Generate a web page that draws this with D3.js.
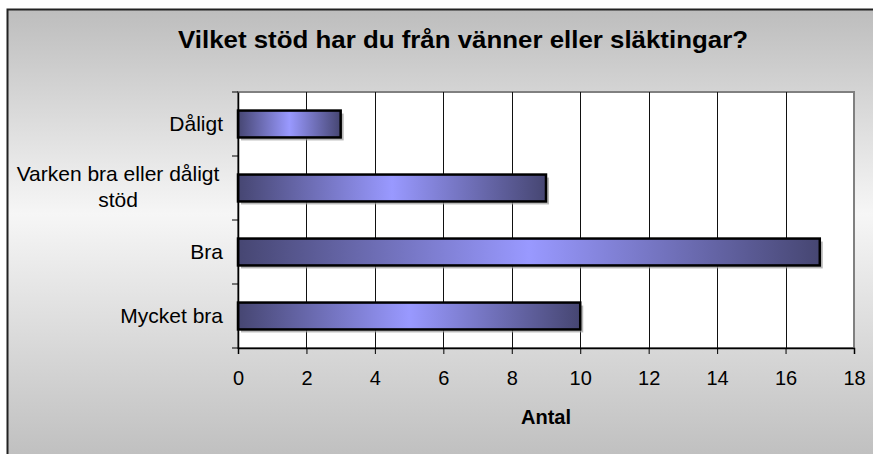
<!DOCTYPE html>
<html>
<head>
<meta charset="utf-8">
<script src="https://cdn.jsdelivr.net/npm/d3@7"></script>
<style>
  body { margin: 0; background: #fff; }
  svg text { font-family: "Liberation Sans", Arial, sans-serif; fill: #000; }
</style>
</head>
<body>
<div id="chart"></div>
<script>
const categories = ['Dåligt', 'Varken bra eller dåligt stöd', 'Bra', 'Mycket bra']
const values = [3, 9, 17, 10]
const xTicks = [0, 2, 4, 6, 8, 10, 12, 14, 16, 18]
const title = 'Vilket stöd har du från vänner eller släktingar?'
const xTitle = 'Antal'

const width = 873
const height = 454
const plot = { left: 238, right: 854, top: 92, bottom: 348 }

const svg = d3.select('#chart').append('svg')
  .attr('width', width)
  .attr('height', height)

const defs = svg.append('defs')

const bg = defs.append('linearGradient')
  .attr('id', 'bg').attr('x1', 0).attr('y1', 0).attr('x2', 0).attr('y2', 1)
bg.append('stop').attr('offset', '0%').attr('stop-color', '#bdbdbd')
bg.append('stop').attr('offset', '45%').attr('stop-color', '#f6f6f6')
bg.append('stop').attr('offset', '100%').attr('stop-color', '#bebebe')

const barGrad = defs.append('linearGradient')
  .attr('id', 'bar').attr('x1', 0).attr('y1', 0).attr('x2', 1).attr('y2', 0)
barGrad.append('stop').attr('offset', '0%').attr('stop-color', '#464672')
barGrad.append('stop').attr('offset', '50%').attr('stop-color', '#9999ff')
barGrad.append('stop').attr('offset', '100%').attr('stop-color', '#464672')

// chart area background + border
svg.append('rect')
  .attr('x', 7.5).attr('y', 9.5)
  .attr('width', width).attr('height', height)
  .attr('fill', 'url(#bg)')
  .attr('stroke', '#222')
  .attr('stroke-width', 2)

const titleText = svg.append('text')
  .attr('x', 463).attr('y', 48)
  .attr('text-anchor', 'middle')
  .style('font-size', '24px').style('font-weight', 'bold')
  .text(title)
// fit the title to the width it takes in the original
if (titleText.node().getComputedTextLength() < 570) {
  titleText.attr('textLength', 570).attr('lengthAdjust', 'spacingAndGlyphs')
}

const x = d3.scaleLinear().domain([0, 18]).range([plot.left, plot.right])
const y = d3.scaleBand().domain(categories).range([plot.top, plot.bottom])

// plot area
svg.append('rect')
  .attr('x', plot.left).attr('y', plot.top)
  .attr('width', plot.right - plot.left).attr('height', plot.bottom - plot.top)
  .attr('fill', '#fff')
  .attr('stroke', '#808080').attr('stroke-width', 2)

// gridlines
svg.append('g')
  .selectAll('line')
  .data(xTicks.slice(1, -1))
  .join('line')
  .attr('x1', d => Math.round(x(d)) + 0.5).attr('x2', d => Math.round(x(d)) + 0.5)
  .attr('y1', plot.top).attr('y2', plot.bottom)
  .attr('stroke', '#111').attr('stroke-width', 1)

// bars
const barH = y.bandwidth() * 0.42
const bars = svg.append('g')
  .selectAll('g')
  .data(categories.map((c, i) => ({ c, v: values[i] })))
  .join('g')

bars.append('rect')
  .attr('x', x(0) + 3)
  .attr('y', d => y(d.c) + (y.bandwidth() - barH) / 2 + 3)
  .attr('width', d => x(d.v) - x(0))
  .attr('height', barH)
  .attr('fill', '#9a9a9a')
  .attr('opacity', 0.7)

bars.append('rect')
  .attr('x', x(0))
  .attr('y', d => y(d.c) + (y.bandwidth() - barH) / 2)
  .attr('width', d => x(d.v) - x(0))
  .attr('height', barH)
  .attr('fill', 'url(#bar)')
  .attr('stroke', '#000').attr('stroke-width', 2.5)

// axes
const xAxis = svg.append('g')
  .attr('transform', `translate(0,${plot.bottom})`)
  .call(d3.axisBottom(x).tickValues(xTicks).tickSize(6).tickPadding(17))
xAxis.select('.domain').attr('stroke', '#000').attr('stroke-width', 1.5)
xAxis.selectAll('.tick line').attr('stroke', '#000')
xAxis.attr('font-family', null).attr('font-size', null)
xAxis.selectAll('text').style('font-size', '20px')

const yAxis = svg.append('g')
  .attr('transform', `translate(${plot.left},0)`)
  .call(d3.axisLeft(y).tickSize(0).tickFormat(''))
yAxis.select('.domain').attr('stroke', '#000').attr('stroke-width', 1.5)

svg.append('g')
  .selectAll('line')
  .data(d3.range(categories.length + 1))
  .join('line')
  .attr('x1', plot.left - 6).attr('x2', plot.left)
  .attr('y1', i => plot.top + i * y.step())
  .attr('y2', i => plot.top + i * y.step())
  .attr('stroke', '#000')

// category labels
const labelLines = {
  'Varken bra eller dåligt stöd': ['Varken bra eller dåligt', 'stöd']
}
categories.forEach(c => {
  const cy = y(c) + y.bandwidth() / 2
  const lines = labelLines[c]
  if (lines) {
    const t = svg.append('text')
      .attr('text-anchor', 'middle')
      .style('font-size', '21px')
    lines.forEach((l, i) => {
      t.append('tspan')
        .attr('x', 118)
        .attr('y', cy - 7 + i * 26)
        .text(l)
    })
  } else {
    svg.append('text')
      .attr('x', 223).attr('y', cy + 7)
      .attr('text-anchor', 'end')
      .style('font-size', '21px')
      .text(c)
  }
})

svg.append('text')
  .attr('x', 546).attr('y', 424)
  .attr('text-anchor', 'middle')
  .style('font-size', '20px').style('font-weight', 'bold')
  .text(xTitle)
</script>
</body>
</html>
